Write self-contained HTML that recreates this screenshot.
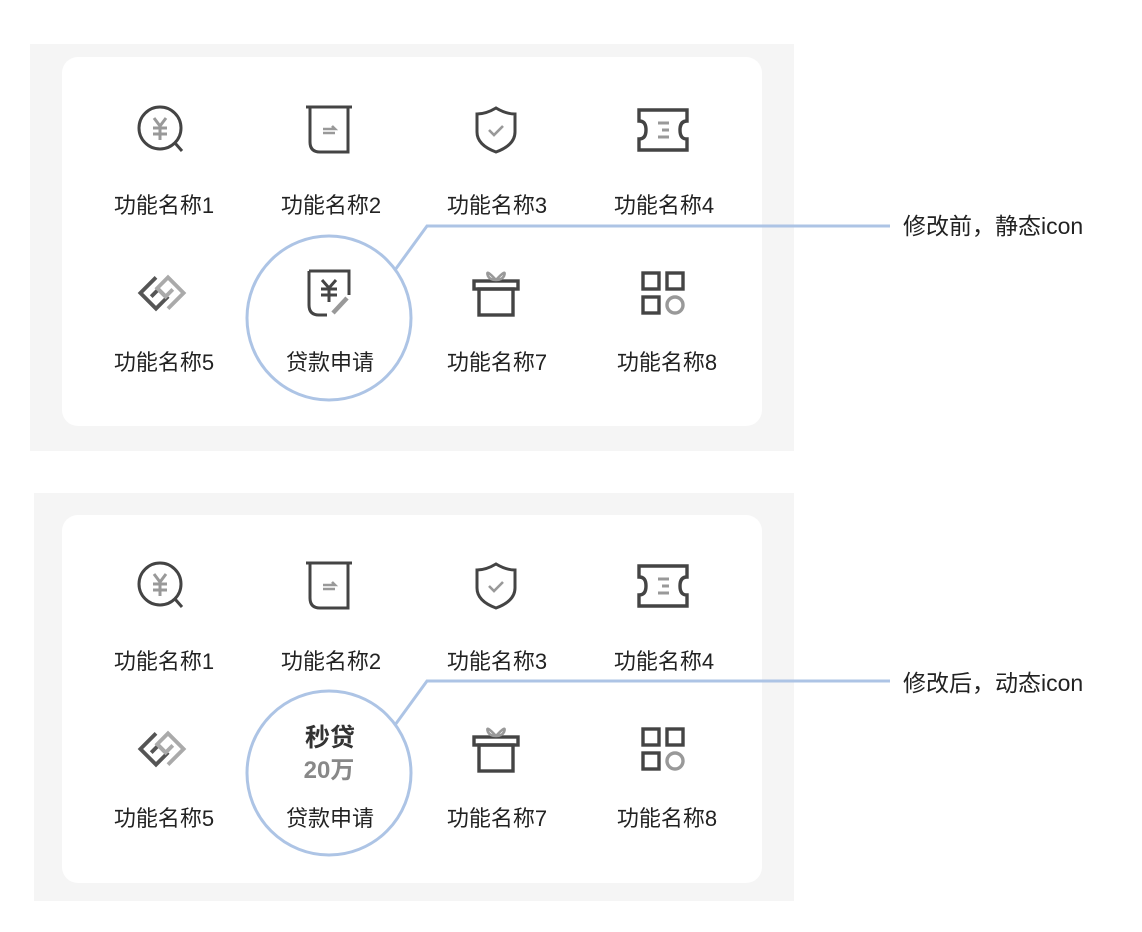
<!DOCTYPE html>
<html><head><meta charset="utf-8"><style>
body{margin:0;background:#fff;}
svg{display:block;}
text{font-family:"Liberation Sans","Noto Sans CJK SC",sans-serif;}
</style></head><body>
<svg width="1142" height="932" viewBox="0 0 1142 932" xmlns="http://www.w3.org/2000/svg">
<defs>
<g id="icons">
 <g transform="translate(161,130)" fill="none" stroke="#444" stroke-width="3">
  <circle cx="-1" cy="-2" r="21"/>
  <line x1="14" y1="13" x2="21" y2="21"/>
  <g stroke="#999" stroke-width="3"><path d="M-7,-12 L-1,-4 L5,-12 M-1,-4 V10 M-8,-2 H6 M-8,4 H6"/></g>
 </g>
 <g transform="translate(329,130)" fill="none" stroke="#444" stroke-width="3">
  <line x1="-23" y1="-23" x2="23" y2="-23"/>
  <path d="M-19,-22 V12 Q-19,22 -9,22 H19 V-22"/>
  <path d="M-6,-1 H6 L3,-4 M-6,3 H6" stroke="#999" stroke-width="2.6"/>
 </g>
 <g transform="translate(496,130)" fill="none" stroke="#444" stroke-width="3">
  <path d="M0,-22 Q-10,-16 -19,-16 V2 Q-19,15 0,22 Q19,15 19,2 V-16 Q10,-16 0,-22Z"/>
  <path d="M-7,0 L-2,5 L7,-4" stroke="#999" stroke-width="2.6"/>
 </g>
 <g transform="translate(663,130)" fill="none" stroke="#444" stroke-width="3.4">
  <path d="M-24,-20 H24 V-9 Q17,-9 17,0 Q17,9 24,9 V20 H-24 V9 Q-17,9 -17,0 Q-17,-9 -24,-9Z"/>
  <path d="M-5,-7 H6 M-1,0 H6 M-5,7 H6" stroke="#999" stroke-width="3"/>
 </g>
 <g transform="translate(162,293) scale(1.2)" fill="none" stroke-width="3.2">
  <path d="M-5,-13 L-18,0 L-5,13 L4,4 L-3,-3 L-9,3" stroke="#555"/>
  <path d="M5,13 L18,0 L5,-13 L-4,-4 L3,3 L9,-3" stroke="#aaa"/>
 </g>
 <g transform="translate(496,293)" fill="none" stroke="#444" stroke-width="3.4">
  <rect x="-22" y="-12" width="44" height="8"/>
  <rect x="-17" y="-4" width="34" height="26"/>
  <path d="M0,-13 Q-11,-25 -8,-17 Q-6,-13 0,-13 Q6,-13 8,-17 Q11,-25 0,-13" stroke="#999" stroke-width="2.6"/>
 </g>
 <g transform="translate(663,293)" fill="none" stroke="#444" stroke-width="3.4">
  <rect x="-20" y="-20" width="16" height="16"/>
  <rect x="4" y="-20" width="16" height="16"/>
  <rect x="-20" y="4" width="16" height="16"/>
  <circle cx="12" cy="12" r="8" stroke="#999"/>
 </g>
 <g font-size="22" fill="#222" text-anchor="middle">
  <text x="164" y="213">功能名称1</text>
  <text x="331" y="213">功能名称2</text>
  <text x="497" y="213">功能名称3</text>
  <text x="664" y="213">功能名称4</text>
  <text x="164" y="370">功能名称5</text>
  <text x="330" y="370">贷款申请</text>
  <text x="497" y="370">功能名称7</text>
  <text x="667" y="370">功能名称8</text>
 </g>
</g>
</defs>

<rect x="30" y="44" width="764" height="407" fill="#f5f5f5"/>
<rect x="62" y="57" width="700" height="369" rx="16" fill="#fff"/>
<use href="#icons"/>
<g transform="translate(329,293)" fill="none" stroke="#444" stroke-width="3">
 <path d="M-20,-22 H20 V2 M-20,-22 V12 Q-20,22 -10,22 H-2"/>
 <path d="M-7,-13 L0,-5 L7,-13 M0,-5 V9 M-8,-4 H8 M-8,2 H8" stroke="#444" stroke-width="3"/>
 <line x1="4" y1="20" x2="18" y2="5" stroke="#999" stroke-width="4.5"/>
</g>
<circle cx="329" cy="318" r="82" fill="none" stroke="#adc4e5" stroke-width="3"/>
<polyline points="395,270 427,226 890,226" fill="none" stroke="#adc4e5" stroke-width="3"/>
<text x="903" y="234" font-size="23" fill="#222">修改前，静态icon</text>

<rect x="34" y="493" width="760" height="408" fill="#f5f5f5"/>
<rect x="62" y="515" width="700" height="368" rx="16" fill="#fff"/>
<g transform="translate(0,456)"><use href="#icons" /></g>
<rect x="290" y="715" width="80" height="72" fill="#fff"/>
<text x="330" y="746" font-size="25" font-weight="bold" fill="#333" text-anchor="middle" font-family="'Noto Sans CJK SC',sans-serif">秒贷</text>
<text x="329" y="778" font-size="24" font-weight="bold" fill="#888" text-anchor="middle" font-family="'Noto Sans CJK SC',sans-serif">20万</text>
<circle cx="329" cy="773" r="82" fill="none" stroke="#adc4e5" stroke-width="3"/>
<polyline points="395,725 427,681 890,681" fill="none" stroke="#adc4e5" stroke-width="3"/>
<text x="903" y="691" font-size="23" fill="#222">修改后，动态icon</text>
</svg>
</body></html>
